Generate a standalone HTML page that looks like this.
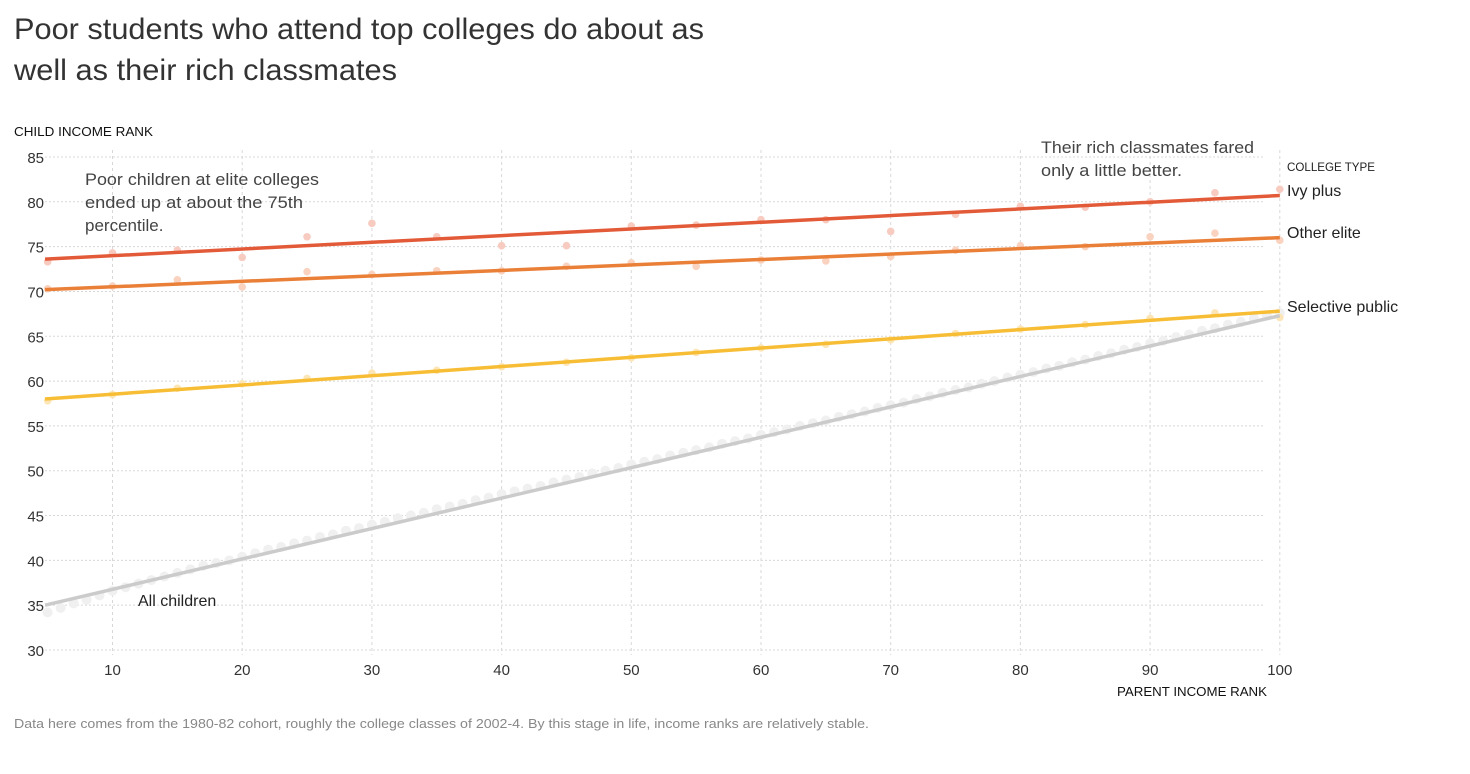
<!DOCTYPE html>
<html><head><meta charset="utf-8">
<style>
html,body{margin:0;padding:0;background:#fff;}
svg{display:block;font-family:"Liberation Sans",sans-serif;}
</style></head>
<body>
<svg id="chart" width="1470" height="774" viewBox="0 0 1470 774" xmlns="http://www.w3.org/2000/svg">
<text x="14" y="39" font-size="30" fill="#333" textLength="690" lengthAdjust="spacingAndGlyphs">Poor students who attend top colleges do about as</text>
<text x="14" y="80" font-size="30" fill="#333" textLength="383" lengthAdjust="spacingAndGlyphs">well as their rich classmates</text>
<text x="14" y="136" font-size="13" fill="#111" textLength="139" lengthAdjust="spacingAndGlyphs">CHILD INCOME RANK</text>
<text x="1267" y="696" font-size="13" fill="#111" text-anchor="end" textLength="150" lengthAdjust="spacingAndGlyphs">PARENT INCOME RANK</text>
<g id="grid"></g>
<g id="marks"></g>
<g font-size="17" fill="#444">
<text x="85" y="185" textLength="234" lengthAdjust="spacingAndGlyphs">Poor children at elite colleges</text>
<text x="85" y="208" textLength="218" lengthAdjust="spacingAndGlyphs">ended up at about the 75th</text>
<text x="85" y="231">percentile.</text>
</g>
<g font-size="17" fill="#444">
<text x="1041" y="153" textLength="213" lengthAdjust="spacingAndGlyphs">Their rich classmates fared</text>
<text x="1041" y="176" textLength="141" lengthAdjust="spacingAndGlyphs">only a little better.</text>
</g>
<text x="1287" y="171" font-size="12" fill="#222" textLength="88" lengthAdjust="spacingAndGlyphs">COLLEGE TYPE</text>
<text x="1287" y="196" font-size="16" fill="#222">Ivy plus</text>
<text x="1287" y="238" font-size="16" fill="#222">Other elite</text>
<text x="1287" y="312" font-size="16" fill="#222">Selective public</text>
<text x="138" y="606" font-size="16" fill="#222">All children</text>
<text x="14" y="728" font-size="13" fill="#888" textLength="855" lengthAdjust="spacingAndGlyphs">Data here comes from the 1980-82 cohort, roughly the college classes of 2002-4. By this stage in life, income ranks are relatively stable.</text>
</svg>
<script>
const xTicks=[10,20,30,40,50,60,70,80,90,100];
const yTicks=[30,35,40,45,50,55,60,65,70,75,80,85];
const collegeX=[5,10,15,20,25,30,35,40,45,50,55,60,65,70,75,80,85,90,95,100];
const ivyPlus=[73.3,74.3,74.6,73.8,76.1,77.6,76.1,75.1,75.1,77.3,77.4,78.0,78.0,76.7,78.6,79.5,79.4,80.0,81.0,81.4];
const otherElite=[70.3,70.6,71.3,70.5,72.2,71.9,72.3,72.3,72.8,73.2,72.8,73.5,73.4,73.9,74.6,75.1,75.0,76.1,76.5,75.7];
const selectivePublic=[57.8,58.5,59.2,59.7,60.3,60.9,61.2,61.6,62.1,62.6,63.2,63.7,64.1,64.6,65.3,65.8,66.3,67.0,67.6,67.1];
const allChildrenX=[5,6,7,8,9,10,11,12,13,14,15,16,17,18,19,20,21,22,23,24,25,26,27,28,29,30,31,32,33,34,35,36,37,38,39,40,41,42,43,44,45,46,47,48,49,50,51,52,53,54,55,56,57,58,59,60,61,62,63,64,65,66,67,68,69,70,71,72,73,74,75,76,77,78,79,80,81,82,83,84,85,86,87,88,89,90,91,92,93,94,95,96,97,98,99,100];
const allChildren=[34.2,34.7,35.2,35.6,36.1,36.6,37.0,37.4,37.8,38.2,38.6,39.0,39.4,39.7,40.0,40.4,40.8,41.2,41.5,41.9,42.2,42.6,42.9,43.3,43.6,44.0,44.3,44.7,45.0,45.3,45.7,46.0,46.3,46.7,47.0,47.4,47.7,48.0,48.3,48.7,49.0,49.3,49.7,50.0,50.3,50.7,51.0,51.3,51.7,52.0,52.3,52.6,53.0,53.3,53.6,54.0,54.3,54.6,55.0,55.3,55.6,56.0,56.3,56.6,57.0,57.3,57.6,58.0,58.3,58.7,59.0,59.3,59.7,60.0,60.4,60.7,61.0,61.4,61.7,62.1,62.4,62.8,63.1,63.5,63.8,64.2,64.5,64.9,65.2,65.6,65.9,66.3,66.6,67.0,67.3,67.6];
const fitX=[4.8,100];
const fitIvy=[73.6,80.7];
const fitOther=[70.2,76.0];
const fitSelective=[58.0,67.8];
const fitAll=[35.0,67.3];

const NS="http://www.w3.org/2000/svg";
const xs=v=>112.5+(v-10)*12.97;
const ys=v=>650-(v-30)*8.964;
const grid=document.getElementById('grid');
const marks=document.getElementById('marks');
function mk(tag,parent,attrs){const e=document.createElementNS(NS,tag);for(const k in attrs)e.setAttribute(k,attrs[k]);parent.appendChild(e);return e;}

yTicks.forEach(t=>{
  const l=mk('line',grid,{x1:45,x2:1265,y1:ys(t),y2:ys(t),stroke:'#d8d8d8','stroke-width':1,'stroke-dasharray':'2,2'});
  
  
  const tx=mk('text',grid,{x:44,y:ys(t)+6,'font-size':15,fill:'#333','text-anchor':'end'});
  tx.textContent=t;
  
  
});
xTicks.forEach(t=>{
  const l=mk('line',grid,{x1:xs(t),x2:xs(t),y1:150,y2:655,stroke:'#d8d8d8','stroke-width':1,'stroke-dasharray':'3,3'});
  
  
  const tx=mk('text',grid,{x:xs(t),y:675,'font-size':15,fill:'#333','text-anchor':'middle'});
  tx.textContent=t;
  
  
});

allChildrenX.forEach((x,i)=>{
  const c=mk('circle',marks,{cx:xs(x),cy:ys(allChildren[i]),r:5,fill:'#f0f0f0'});
  
  
});
function dots(vals,color,name){
  collegeX.forEach((x,i)=>{
    const c=mk('circle',marks,{cx:xs(x),cy:ys(vals[i]),r:3.8,fill:color});
    
    
  });
}
dots(selectivePublic,'#fce6b8','selective-public-point');
dots(otherElite,'#f9d3c0','other-elite-point');
dots(ivyPlus,'#f7cbc0','ivy-plus-point');
function fit(vals,color,name){
  const l=mk('line',marks,{x1:xs(fitX[0]),y1:ys(vals[0]),x2:xs(fitX[1]),y2:ys(vals[1]),stroke:color,'stroke-width':3.5});
  
  
}
fit(fitAll,'#cbcbcb','all-children-trend-line');
fit(fitSelective,'#f7bd35','selective-public-trend-line');
fit(fitOther,'#ea7f38','other-elite-trend-line');
fit(fitIvy,'#e35a38','ivy-plus-trend-line');
</script>
</body></html>
